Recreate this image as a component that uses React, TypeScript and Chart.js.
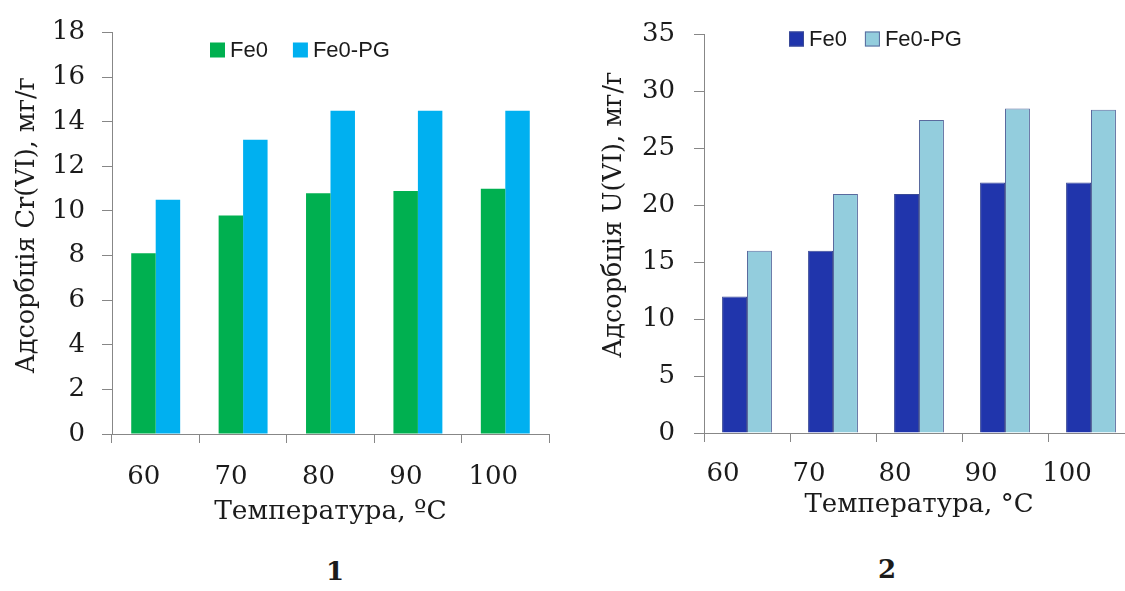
import React, { useEffect, useRef } from "react";
import { Chart, registerables } from "chart.js";

Chart.register(...registerables);

// ---- data ----
const temperatures = ["60", "70", "80", "90", "100"];
const seriesNames = ["Fe0", "Fe0-PG"];
const crFe0 = [8.1, 9.8, 10.8, 10.9, 11.0];
const crFe0PG = [10.5, 13.2, 14.5, 14.5, 14.5];
const uFe0 = [12.0, 16.0, 21.0, 22.0, 22.0];
const uFe0PG = [16.0, 21.0, 27.5, 28.5, 28.4];
const crAxis = { min: 0, max: 18, step: 2 };
const uAxis = { min: 0, max: 35, step: 5 };
const crTitle = "Адсорбція Cr(VI), мг/г";
const uTitle = "Адсорбція U(VI), мг/г";
const xTitleCr = "Температура, ºC";
const xTitleU = "Температура, °С";

const AXIS = "#878787";
const TEXT = "#1b1b1b";
const SERIF = "'DejaVu Serif', serif";

const insideLegend = {
  id: "insideLegend",
  afterDraw(chart: any, _args: any, opts: any) {
    const { ctx } = chart;
    ctx.save();
    ctx.font = opts.font;
    ctx.textBaseline = "middle";
    ctx.textAlign = "left";
    let x = opts.x;
    chart.data.datasets.forEach((ds: any) => {
      const top = opts.y - opts.box / 2;
      ctx.fillStyle = ds.backgroundColor;
      ctx.fillRect(x, top, opts.box, opts.box);
      if (ds.borderWidth) {
        ctx.strokeStyle = ds.borderColor;
        ctx.lineWidth = 1;
        ctx.strokeRect(x + 0.5, top + 0.5, opts.box - 1, opts.box - 1);
      }
      x += opts.box + opts.textGap;
      ctx.fillStyle = TEXT;
      ctx.fillText(ds.label, x, opts.y + 1);
      x += ctx.measureText(ds.label).width + opts.itemGap;
    });
    ctx.restore();
  },
};

// draws the vertical y-axis title, centred on the axis with an optional shift
const yAxisTitle = {
  id: "yAxisTitle",
  afterDraw(chart: any, _args: any, opts: any) {
    const { ctx } = chart;
    const s = chart.scales.y;
    ctx.save();
    ctx.font = `${opts.size}px ${SERIF}`;
    ctx.fillStyle = TEXT;
    ctx.textAlign = "center";
    ctx.textBaseline = "middle";
    ctx.translate(s.left + opts.pad + (opts.size * 1.2) / 2, (s.top + s.bottom) / 2 + opts.shift);
    ctx.rotate(-Math.PI / 2);
    ctx.fillText(opts.text, 0, 0);
    ctx.restore();
  },
};

type Params = {
  a: number[];
  b: number[];
  colorA: string;
  colorB: string;
  borderA: string;
  borderB: string;
  borderWidth: number;
  axis: { min: number; max: number; step: number };
  yTitle: string;
  xTitle: string;
  yAxisWidth: number;
  xAxisHeight: number;
  padTop: number;
  padRight: number;
  catPct: number;
  xTickPad: number;
  xLabelOffset: number;
  yTickPad: number;
  yTitlePad: number;
  yTitleShift: number;
  yTitleSize: number;
  xTitleSize: number;
  xTitlePadBottom: number;
  legendX: number;
  legendY: number;
  legendGap: number;
};

function makeConfig(p: Params): any {
  return {
    type: "bar",
    data: {
      labels: temperatures,
      datasets: [
        {
          label: seriesNames[0],
          data: p.a,
          backgroundColor: p.colorA,
          borderColor: p.borderA,
          borderWidth: p.borderWidth,
          categoryPercentage: p.catPct,
          barPercentage: 1,
        },
        {
          label: seriesNames[1],
          data: p.b,
          backgroundColor: p.colorB,
          borderColor: p.borderB,
          borderWidth: p.borderWidth,
          categoryPercentage: p.catPct,
          barPercentage: 1,
        },
      ],
    },
    options: {
      responsive: false,
      animation: false,
      devicePixelRatio: 1,
      layout: { padding: { top: p.padTop, right: p.padRight, left: 0, bottom: 0 } },
      plugins: {
        legend: { display: false },
        tooltip: { enabled: false },
        insideLegend: {
          x: p.legendX,
          y: p.legendY,
          box: 15,
          textGap: 5,
          itemGap: p.legendGap,
          font: "22px 'Liberation Sans', Arial, sans-serif",
        },
        yAxisTitle: {
          text: p.yTitle,
          size: p.yTitleSize,
          pad: p.yTitlePad,
          shift: p.yTitleShift,
        },
      },
      scales: {
        x: {
          offset: true,
          grid: {
            display: true,
            offset: true,
            drawOnChartArea: false,
            drawTicks: true,
            tickLength: 9,
            color: AXIS,
            lineWidth: 1,
          },
          border: { display: true, color: AXIS, width: 1 },
          ticks: {
            color: TEXT,
            padding: p.xTickPad,
            labelOffset: p.xLabelOffset,
            maxRotation: 0,
            font: { family: SERIF, size: 26 },
          },
          title: {
            display: true,
            text: p.xTitle,
            color: TEXT,
            font: { family: SERIF, size: p.xTitleSize },
            padding: { top: 0, bottom: p.xTitlePadBottom },
          },
          afterFit: (s: any) => {
            s.height = p.xAxisHeight;
          },
        },
        y: {
          min: p.axis.min,
          max: p.axis.max,
          grid: {
            display: true,
            drawOnChartArea: false,
            drawTicks: true,
            tickLength: 10,
            color: AXIS,
            lineWidth: 1,
          },
          border: { display: true, color: AXIS, width: 1 },
          ticks: {
            stepSize: p.axis.step,
            color: TEXT,
            padding: p.yTickPad,
            font: { family: SERIF, size: 26 },
          },
          title: { display: false },
          afterFit: (s: any) => {
            s.width = p.yAxisWidth;
          },
        },
      },
    },
    plugins: [insideLegend, yAxisTitle],
  };
}

function BarPanel(props: { p: Params; left: number; width: number; height: number }) {
  const ref = useRef<HTMLCanvasElement>(null);
  useEffect(() => {
    if (!ref.current) return;
    const chart = new Chart(ref.current, makeConfig(props.p));
    return () => chart.destroy();
  }, []);
  return (
    <canvas
      ref={ref}
      width={props.width}
      height={props.height}
      style={{
        position: "absolute",
        left: props.left,
        top: 0,
        width: props.width,
        height: props.height,
      }}
    />
  );
}

const leftParams: Params = {
  a: crFe0,
  b: crFe0PG,
  colorA: "#00B050",
  colorB: "#00B0F0",
  borderA: "#00B050",
  borderB: "#00B0F0",
  borderWidth: 0,
  axis: crAxis,
  yTitle: crTitle,
  xTitle: xTitleCr,
  yAxisWidth: 112,
  xAxisHeight: 106,
  padTop: 27,
  padRight: 13,
  catPct: 0.56,
  xTickPad: 19,
  xLabelOffset: -12,
  yTickPad: 17,
  yTitlePad: 12,
  yTitleShift: -8,
  yTitleSize: 25.5,
  xTitleSize: 26.5,
  xTitlePadBottom: 12,
  legendX: 210,
  legendY: 50,
  legendGap: 25,
};

const rightParams: Params = {
  a: uFe0,
  b: uFe0PG,
  colorA: "#2035AC",
  colorB: "#93CDDD",
  borderA: "#3A4A96",
  borderB: "#5A6A9E",
  borderWidth: 1,
  axis: uAxis,
  yTitle: uTitle,
  xTitle: xTitleU,
  yAxisWidth: 114,
  xAxisHeight: 107,
  padTop: 21,
  padRight: 16,
  catPct: 0.58,
  xTickPad: 17,
  xLabelOffset: -24,
  yTickPad: 19,
  yTitlePad: 9,
  yTitleShift: -19,
  yTitleSize: 25.5,
  xTitleSize: 26,
  xTitlePadBottom: 19,
  legendX: 199,
  legendY: 39,
  legendGap: 18,
};

export default function App() {
  return (
    <div
      style={{
        position: "absolute",
        left: 0,
        top: 0,
        width: 1125,
        height: 591,
        overflow: "hidden",
        background: "#ffffff",
      }}
    >
      <BarPanel p={leftParams} left={0} width={562} height={540} />
      <BarPanel p={rightParams} left={590} width={560} height={540} />
      <div
        style={{
          position: "absolute",
          left: 315,
          top: 556,
          width: 40,
          textAlign: "center",
          font: `bold 26px ${SERIF}`,
          color: TEXT,
        }}
      >
        1
      </div>
      <div
        style={{
          position: "absolute",
          left: 867,
          top: 554,
          width: 40,
          textAlign: "center",
          font: `bold 26px ${SERIF}`,
          color: TEXT,
        }}
      >
        2
      </div>
    </div>
  );
}
